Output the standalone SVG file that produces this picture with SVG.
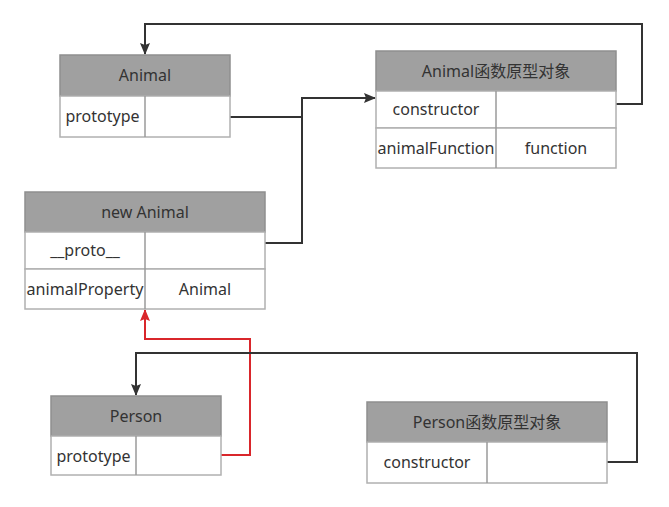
<svg xmlns="http://www.w3.org/2000/svg" width="669" height="507" viewBox="0 0 669 507">
<style>
.hd{fill:#a0a0a0;stroke:#8f8f8f;stroke-width:1.5}
.cell{fill:#ffffff;stroke:#b0b0b0;stroke-width:1.5}
.dv{stroke:#9a9a9a;stroke-width:1.5}
text{font-family:"Noto Sans","Noto Sans CJK SC",sans-serif;font-size:16px;fill:#333333;text-anchor:middle}
.ln{fill:none;stroke:#333333;stroke-width:2}
.red{fill:none;stroke:#d9262b;stroke-width:2}
</style>
<defs>
<marker id="ab" markerWidth="12" markerHeight="10" refX="11" refY="5" orient="auto" markerUnits="userSpaceOnUse"><path d="M0,0 L12,5 L0,10 L2,5 z" fill="#333333"/></marker>
<marker id="ar" markerWidth="12" markerHeight="10" refX="11" refY="5" orient="auto" markerUnits="userSpaceOnUse"><path d="M0,0 L12,5 L0,10 L2,5 z" fill="#d9262b"/></marker>
</defs>
<g id="connectors">
<path class="ln" d="M616,104 H642 V24 H145 V54" marker-end="url(#ab)"/>
<path class="ln" d="M230,117 H302 V98 H375" marker-end="url(#ab)"/>
<path class="ln" d="M265,243 H302 V117"/>
<path class="red" d="M221,455 H250 V339 H145 V310" marker-end="url(#ar)"/>
<path class="ln" d="M607,462 H637 V353 H136 V395" marker-end="url(#ab)"/>
</g>
<g id="animal">
<rect class="hd" x="60" y="55" width="170" height="41"/>
<rect class="cell" x="60" y="96" width="170" height="41"/>
<line class="dv" x1="145" y1="96" x2="145" y2="137"/>
<text x="145" y="81">Animal</text>
<text x="102.5" y="122">prototype</text>
</g>
<g id="animal-proto">
<rect class="hd" x="376" y="51" width="240" height="40"/>
<rect class="cell" x="376" y="91" width="240" height="37"/>
<rect class="cell" x="376" y="128" width="240" height="40"/>
<line class="dv" x1="496" y1="91" x2="496" y2="168"/>
<text x="496" y="77">Animal函数原型对象</text>
<text x="436" y="115">constructor</text>
<text x="436" y="154" textLength="117" lengthAdjust="spacingAndGlyphs">animalFunction</text>
<text x="556" y="154">function</text>
</g>
<g id="new-animal">
<rect class="hd" x="25" y="192" width="240" height="40"/>
<rect class="cell" x="25" y="232" width="240" height="37"/>
<rect class="cell" x="25" y="269" width="240" height="40"/>
<line class="dv" x1="145" y1="232" x2="145" y2="309"/>
<text x="145" y="218">new Animal</text>
<text x="85" y="256">__proto__</text>
<text x="85" y="295" textLength="117" lengthAdjust="spacingAndGlyphs">animalProperty</text>
<text x="205" y="295">Animal</text>
</g>
<g id="person">
<rect class="hd" x="51" y="396" width="170" height="40"/>
<rect class="cell" x="51" y="436" width="170" height="39"/>
<line class="dv" x1="136" y1="436" x2="136" y2="475"/>
<text x="136" y="422">Person</text>
<text x="93.5" y="462">prototype</text>
</g>
<g id="person-proto">
<rect class="hd" x="367" y="402" width="240" height="40"/>
<rect class="cell" x="367" y="442" width="240" height="41"/>
<line class="dv" x1="487" y1="442" x2="487" y2="483"/>
<text x="487" y="428">Person函数原型对象</text>
<text x="427" y="468">constructor</text>
</g>
</svg>
